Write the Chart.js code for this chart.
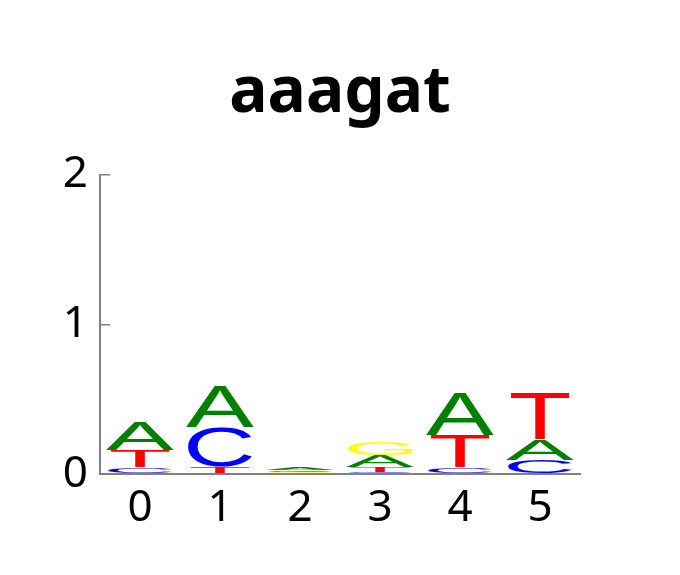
<!DOCTYPE html>
<html>
<head>
<meta charset="utf-8">
<script src="https://cdn.jsdelivr.net/npm/chart.js@4.4.1/dist/chart.umd.min.js"></script>
<style>
html,body{margin:0;padding:0;background:#fff;}
#wrap{width:680px;height:575px;position:relative;}
</style>
</head>
<body>
<div id="wrap"><canvas id="c"></canvas></div>
<script>
// Sequence logo data (bits) per position
const titleText = 'aaagat';
const positions = ['0', '1', '2', '3', '4', '5'];
const yTicks = [0, 1, 2];
const A = [0.185, 0.273, 0.015, 0.080, 0.282, 0.140];
const C = [0.038, 0.262, 0.011, 0.013, 0.038, 0.087];
const G = [0.009, 0.007, 0.009, 0.088, 0.009, 0.007];
const T = [0.110, 0.040, 0.006, 0.030, 0.213, 0.309];

const letterColors = { A: '#008000', C: '#0000ff', G: '#ffff00', T: '#ff0000' };
const letterWidth = { A: 1.0, C: 0.94, G: 0.94, T: 0.86 };

// Build stacked rank datasets: rank 0 = smallest (bottom) ... rank 3 = largest (top)
const series = { A, C, G, T };
const rankDatasets = [0, 1, 2, 3].map(r => ({ label: 'rank' + r, data: [], letters: [], backgroundColor: 'rgba(0,0,0,0)', borderWidth: 0 }));
positions.forEach((p, i) => {
  const col = Object.keys(series).map(k => ({ k, v: series[k][i] })).sort((a, b) => a.v - b.v);
  col.forEach((item, r) => { rankDatasets[r].data.push(item.v); rankDatasets[r].letters.push(item.k); });
});

const logoPlugin = {
  id: 'logoLetters',
  afterDatasetsDraw(chart) {
    const ctx = chart.ctx;
    const fontSpec = '200px "Liberation Sans", Arial, sans-serif';
    chart.data.datasets.forEach((ds, di) => {
      const meta = chart.getDatasetMeta(di);
      meta.data.forEach((el, j) => {
        const p = el.getProps(['x', 'y', 'base', 'width'], true);
        const top = Math.min(p.y, p.base);
        const h = Math.abs(p.base - p.y);
        if (h < 0.3) return;
        const L = ds.letters[j];
        const w = p.width * letterWidth[L];
        ctx.save();
        ctx.font = fontSpec;
        ctx.textBaseline = 'alphabetic';
        ctx.textAlign = 'left';
        const m = ctx.measureText(L);
        const gw = m.actualBoundingBoxLeft + m.actualBoundingBoxRight;
        const gh = m.actualBoundingBoxAscent + m.actualBoundingBoxDescent;
        ctx.beginPath();
        ctx.translate(p.x - w / 2, top);
        ctx.scale(w / gw, h / gh);
        ctx.fillStyle = letterColors[L];
        ctx.fillText(L, m.actualBoundingBoxLeft, m.actualBoundingBoxAscent);
        ctx.restore();
      });
    });
  }
};

const axisGray = '#808080';

new Chart(document.getElementById('c'), {
  type: 'bar',
  data: { labels: positions, datasets: rankDatasets },
  plugins: [logoPlugin],
  options: {
    responsive: true,
    maintainAspectRatio: false,
    animation: false,
    events: [],
    layout: { padding: 0 },
    datasets: { bar: { barPercentage: 0.85, categoryPercentage: 1.0 } },
    plugins: {
      legend: { display: false },
      tooltip: { enabled: false },
      title: {
        display: true,
        text: titleText,
        color: '#000',
        font: { family: '"Noto Sans", sans-serif', size: 64, weight: 'bold', lineHeight: 1.2 },
        padding: { top: 55, bottom: 43 }
      }
    },
    scales: {
      x: {
        stacked: true,
        offset: true,
        grid: { display: false, drawTicks: false },
        border: { display: true, color: axisGray, width: 2 },
        ticks: { color: '#000', padding: 8, font: { family: '"Noto Sans", sans-serif', size: 44 } },
        afterFit(s) { s.height = 101; }
      },
      y: {
        stacked: true,
        min: 0,
        max: 2,
        afterBuildTicks(s) { s.ticks = yTicks.map(v => ({ value: v })); },
        grid: { display: true, drawOnChartArea: false, drawTicks: true, tickLength: -10, color: axisGray, lineWidth: 1.5 },
        border: { display: true, color: axisGray, width: 2 },
        ticks: { color: '#000', padding: 22, font: { family: '"Noto Sans", sans-serif', size: 44 } },
        afterFit(s) { s.width = 100; }
      },
      yRightSpace: {
        position: 'right',
        display: true,
        grid: { display: false, drawTicks: false },
        border: { display: false },
        ticks: { display: false },
        afterFit(s) { s.width = 100; }
      }
    }
  }
});
</script>
</body>
</html>
